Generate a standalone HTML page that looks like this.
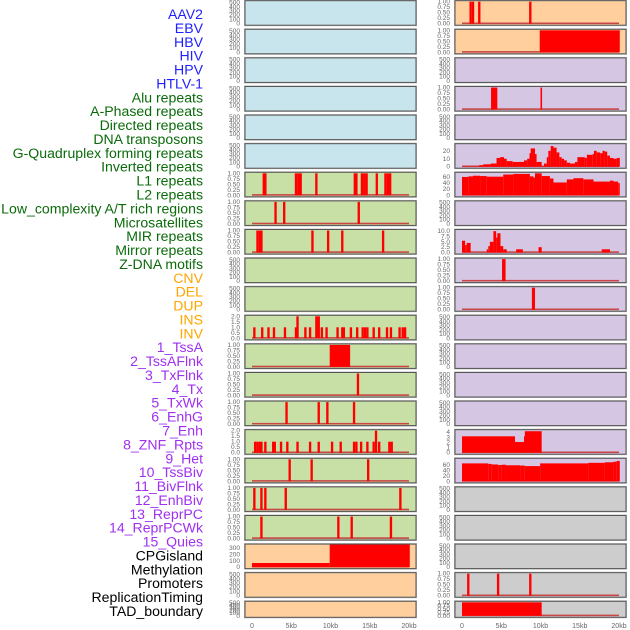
<!DOCTYPE html>
<html><head><meta charset="utf-8"><style>
html,body{margin:0;padding:0;background:#fff}
svg{display:block}
text{font-family:"Liberation Sans",sans-serif}
</style></head><body>
<svg id="chart" width="630" height="630" viewBox="0 0 630 630" xmlns="http://www.w3.org/2000/svg"></svg>
<script>
// ---------- data ----------
const labelColors = {virus:"#1f1fff",repeat:"#0b6b0b",sv:"#ffa500",state:"#a030f0",other:"#000"};
const xTickValues = [0,5,10,15,20];
const xTickLabels = ["0","5kb","10kb","15kb","20kb"];

const midRow6Pos = [1.5,1.7,5.6,5.9,6.2,8.2,13.1,13.3,14.0,14.3,14.6,15.9,17.0,17.3,17.6];
const midRow7Pos = [3.0,4.1,13.6];
const midRow8Pos = [0.7,1.0,1.2,7.7,9.7,11.5,16.7];
const midRow11Pos = [0.3,1.3,2.1,2.8,4.2,5.6,5.8,6.8,7.4,8.2,8.5,8.9,9.5,10.9,11.5,11.7,12.6,13.4,14.1,14.4,14.7,15.5,16.2,17.2,17.7,18.8,19.2,19.5];
const midRow11Val = [1,1,1,1,1,1,2,1,1,2,2,1,1,1,1,1,1,1,1,1,1,1,1,1,1,1,1,1];
const midRow12Block = [[9.9,12.5,1]];
const midRow13Pos = [13.5];
const midRow14Pos = [4.4,8.5,9.6,13.0];
const midRow15Pos = [0.4,0.7,1.0,1.2,1.7,2.7,2.9,3.7,4.5,5.8,7.4,8.5,10.2,11.3,13.0,13.3,13.9,14.7,15.5,15.8,16.2,17.5,17.8];
const midRow15Val = [1,1,1,1,1,1,1,1,1,1,1,1,1,1,1,1,1,1,1,2,1,1,1];
const midRow16Pos = [4.8,7.6,14.8];
const midRow17Pos = [0.3,1.2,1.7,4.3,18.9];
const midRow18Pos = [1.2,11.0,12.7,17.7];
const midCpgEdges = [0,9.9,20.1];
const midCpgVals = [65,360];

const rgtRow0Pos = [1.1,1.4,2.2,8.7];
const rgtRow1Block = [[9.9,20.1,1]];
const rgtRow3Block = [[3.7,4.5,1],[10.0,10.2,1]];
const gquadEdges = [0.1,2.2,2.7,3.65,4.4,4.85,5.35,5.7,6.45,7.9,8.3,8.6,8.75,9.3,9.5,10.15,10.45,10.8,11.0,11.3,11.65,12.05,12.4,12.7,13.0,13.35,13.75,14.4,14.7,15.65,15.9,16.65,16.8,17.15,17.6,17.9,18.2,18.5,18.85,19.3,19.7,20.1];
const gquadVals = [0.5,2,3,4,11,12,10,7,6,8,10,17,23,16,6,0.5,4,12,20,26,24,18,12,10,8,5,4,6,12,11,15,16,20,18,17,20,19,14,11,10,11];
const l1Edges = [0,0.8,1.4,2.3,3.15,5.25,6.55,8.65,9.1,9.3,10.15,11.2,11.65,13.35,14.2,15.45,16.75,18.85,19.3,19.9,20.1];
const l1Vals = [60,62,64,63,61,68,70,62,58,72,63,55,42,52,56,52,45,48,45,40];
const mirEdges = [0,0.4,0.6,1.1,3.15,3.35,3.55,4.0,4.35,4.5,4.9,5.25,5.7,6.9,7.75,9.75,10.15,17.8,18.85,20.1];
const mirVals = [5.5,3.5,4.5,0,1.5,3,5,10,7,9,3,1.5,0,1.5,0,2.5,0,1.5,0];
const rgtRow9Block = [[5.1,5.55,1]];
const rgtRow10Block = [[8.9,9.3,1]];
const state8Edges = [0,6.75,7.9,8.0,10.15];
const state8Vals = [3.2,2.1,3.2,4.2];
const state9Edges = [0,3.35,3.8,4.6,5.05,5.6,7.4,8.0,9.95,16.1,18.2,19.25,19.7,20.1];
const state9Vals = [66,64,62,60,61,59,58,56,66,68,70,72,75];
const promoterPos = [0.8,4.6,8.7];
const tadBlock = [[0,10.15,1]];

// ---------- rendering ----------
const svg = document.getElementById('chart');
const NS = "http://www.w3.org/2000/svg";
function mk(tag, attrs, parent){const e=document.createElementNS(NS,tag);for(const k in attrs)e.setAttribute(k,attrs[k]);(parent||svg).appendChild(e);return e;}

const leftLabels = ["AAV2","EBV","HBV","HIV","HPV","HTLV-1","Alu repeats","A-Phased repeats","Directed repeats","DNA transposons","G-Quadruplex forming repeats","Inverted repeats","L1 repeats","L2 repeats","Low_complexity A/T rich regions","Microsatellites","MIR repeats","Mirror repeats","Z-DNA motifs","CNV","DEL","DUP","INS","INV","1_TssA","2_TssAFlnk","3_TxFlnk","4_Tx","5_TxWk","6_EnhG","7_Enh","8_ZNF_Rpts","9_Het","10_TssBiv","11_BivFlnk","12_EnhBiv","13_ReprPC","14_ReprPCWk","15_Quies","CPGisland","Methylation","Promoters","ReplicationTiming","TAD_boundary"];
const labelGroups = leftLabels.map((_,i)=> i<6?'virus':i<19?'repeat':i<24?'sv':i<39?'state':'other');
const labStep = (611-14)/(leftLabels.length-1);
leftLabels.forEach((t,i)=>{
  const el = mk('text',{x:203,y:14+i*labStep+5,'text-anchor':'end','font-size':'14.1',fill:labelColors[labelGroups[i]]});
  el.textContent=t;
  
  
});

const BG = {blue:"#c8e4ec",green:"#c8e0a5",peach:"#ffd09e",purple:"#d5c6e3",grey:"#cdcdcd"};
const T500 = {ticks:[0,100,200,300,400,500],labels:["0","100","200","300","400","500"],max:520};
const T1 = {ticks:[0,0.25,0.5,0.75,1],labels:["0.00","0.25","0.50","0.75","1.00"],max:1.0};
const T2 = {ticks:[0,0.5,1,1.5,2],labels:["0.0","0.5","1.0","1.5","2.0"],max:2.0};

function spikes(pos, vals){return pos.map((p,i)=>[p-0.15,p+0.15,vals?vals[i]:1]);}
function steps(edges, vals){return vals.map((v,i)=>[edges[i],edges[i+1],v]);}

const mid=[], rgt=[];
for(let i=0;i<6;i++) mid.push({bg:'blue',t:T500,d:null});
mid.push({bg:'green',t:T1,d:spikes(midRow6Pos)});
mid.push({bg:'green',t:T1,d:spikes(midRow7Pos)});
mid.push({bg:'green',t:T1,d:spikes(midRow8Pos)});
mid.push({bg:'green',t:T500,d:null});
mid.push({bg:'green',t:T500,d:null});
mid.push({bg:'green',t:T2,d:spikes(midRow11Pos,midRow11Val)});
mid.push({bg:'green',t:T1,d:midRow12Block});
mid.push({bg:'green',t:T1,d:spikes(midRow13Pos)});
mid.push({bg:'green',t:T1,d:spikes(midRow14Pos)});
mid.push({bg:'green',t:T2,d:spikes(midRow15Pos,midRow15Val)});
mid.push({bg:'green',t:T1,d:spikes(midRow16Pos)});
mid.push({bg:'green',t:T1,d:spikes(midRow17Pos)});
mid.push({bg:'green',t:T1,d:spikes(midRow18Pos)});
mid.push({bg:'peach',t:{ticks:[0,100,200,300],labels:["0","100","200","300"],max:350},d:steps(midCpgEdges,midCpgVals)});
mid.push({bg:'peach',t:T500,d:null});
mid.push({bg:'peach',t:T500,d:null});

rgt.push({bg:'peach',t:T1,d:spikes(rgtRow0Pos)});
rgt.push({bg:'peach',t:T1,d:rgtRow1Block});
rgt.push({bg:'purple',t:T500,d:null});
rgt.push({bg:'purple',t:T1,d:rgtRow3Block});
rgt.push({bg:'purple',t:T500,d:null});
rgt.push({bg:'purple',t:{ticks:[0,10,20],labels:["0","10","20"],max:27.7},d:steps(gquadEdges,gquadVals)});
rgt.push({bg:'purple',t:{ticks:[0,20,40,60],labels:["0","20","40","60"],max:72},d:steps(l1Edges,l1Vals)});
rgt.push({bg:'purple',t:T500,d:null});
rgt.push({bg:'purple',t:{ticks:[0,2.5,5,7.5,10],labels:["0.0","2.5","5.0","7.5","10.0"],max:10.3},d:steps(mirEdges,mirVals)});
rgt.push({bg:'purple',t:T1,d:rgtRow9Block});
rgt.push({bg:'purple',t:T1,d:rgtRow10Block});
for(let i=0;i<4;i++) rgt.push({bg:'purple',t:T500,d:null});
rgt.push({bg:'purple',t:{ticks:[0,1,2,3,4],labels:["0","1","2","3","4"],max:4.3},d:steps(state8Edges,state8Vals)});
rgt.push({bg:'purple',t:{ticks:[0,20,40,60],labels:["0","20","40","60"],max:81},d:steps(state9Edges,state9Vals)});
rgt.push({bg:'grey',t:T500,d:null});
rgt.push({bg:'grey',t:T500,d:null});
rgt.push({bg:'grey',t:T500,d:null});
rgt.push({bg:'grey',t:T1,d:spikes(promoterPos)});
rgt.push({bg:'grey',t:T1,d:tadBlock});

const cols = [{x0:252,left:245,right:416,tickX:240,panels:mid,name:'left'},{x0:462,left:455,right:626,tickX:450,panels:rgt,name:'right'}];
const KB = 7.85;
cols.forEach(c=>{
  const xs = v => c.x0 + v*KB;
  c.panels.forEach((p,r)=>{
    const top = 0.7 + r*28.6;
    const h = r===21 ? 16 : 24.5;
    const bot = top+h;
    const y0 = bot-1.5, y1 = top+1;
    const ys = v => y0 - (v/p.t.max)*(y0-y1);
    const g = mk('g',{});
    
    
    mk('rect',{x:c.left-0.5,y:top-0.5,width:c.right-c.left+1,height:h+1,fill:'none',stroke:'#bbb','stroke-width':1},g);
    mk('rect',{x:c.left,y:top,width:c.right-c.left,height:h,fill:BG[p.bg]},g);
    if(p.d){
      mk('rect',{x:xs(0),y:y0-1.2,width:xs(20)-xs(0),height:1.6,fill:'#c84646'},g);
      p.d.forEach(iv=>{
        const bar = mk('rect',{x:xs(iv[0]),y:ys(iv[2]),width:Math.max(1.5,xs(iv[1])-xs(iv[0])),height:Math.max(0,y0-ys(iv[2])),fill:'#ff0000'},g);
        
        
      });
    }
    mk('rect',{x:c.left,y:top,width:c.right-c.left,height:h,fill:'none',stroke:'#555','stroke-width':1},g);
    p.t.ticks.forEach((tv,k)=>{
      const tx = mk('text',{x:c.tickX,y:ys(tv)+2,'text-anchor':'end','font-size':'6.5',fill:'#666'},g);
      tx.textContent = p.t.labels[k];
    });
  });
  xTickValues.forEach((v,k)=>{
    const t = mk('text',{x:xs(v),y:628,'text-anchor':'middle','font-size':'7',fill:'#666'});
    t.textContent = xTickLabels[k];
    
    
  });
});
</script>
</body></html>
